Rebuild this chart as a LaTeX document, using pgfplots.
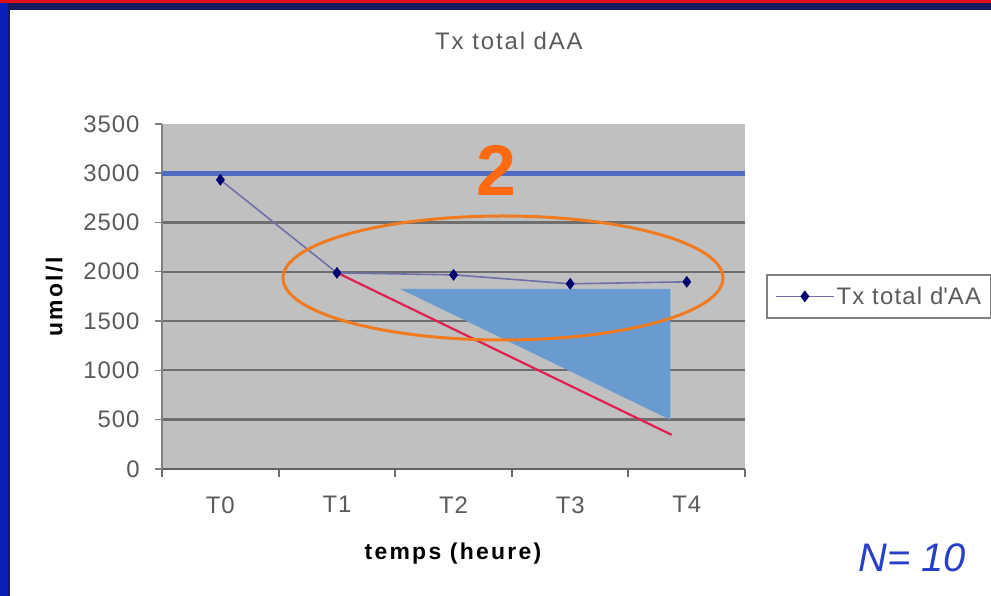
\documentclass[border=0pt]{standalone}
\usepackage{pgfplots}
\pgfplotsset{compat=1.18}
\usepackage{fontspec}
\setmainfont{Liberation Sans}
\definecolor{plotgray}{HTML}{C0C0C0}
\definecolor{gridc}{HTML}{6E6E6E}
\definecolor{blueline}{HTML}{4F6BC0}
\definecolor{triblue}{HTML}{6A9BD0}
\definecolor{redline}{HTML}{E02050}
\definecolor{ellorange}{HTML}{F07A20}
\definecolor{twoorange}{HTML}{FF6A10}
\definecolor{serline}{HTML}{7070A8}
\definecolor{sermark}{HTML}{000070}
\definecolor{nblue}{HTML}{2A3FC8}
\definecolor{framered}{HTML}{E0101A}
\definecolor{framenavy}{HTML}{141A5C}
\definecolor{frameblue}{HTML}{0A20B8}
\definecolor{ticktext}{HTML}{5A5A5A}
\begin{document}
\begin{tikzpicture}[x=1bp,y=1bp]
\useasboundingbox (0,0) rectangle (991,596);
\clip (0,0) rectangle (991,596);
\fill[white] (0,0) rectangle (991,596);
\fill[framenavy] (0,586) rectangle (991,593);
\fill[framered] (0,593) rectangle (991,596);
\fill[frameblue] (0,0) rectangle (8,593);
\fill[framenavy] (8,0) rectangle (10,593);
\begin{axis}[
  at={(139,129)}, anchor=south west,
  scale only axis, width=583bp, height=345bp,
  xmin=-0.5, xmax=4.5, ymin=0, ymax=3500,
  axis background/.style={fill=plotgray},
  axis x line*=bottom, axis y line*=left,
  axis line style={-, line width=2bp},
  x axis line style={color=gridc!90!black},
  y axis line style={color=gray},
  xtick={0,1,2,3,4}, xticklabels={T0,T1,T2,T3,T4},
  major x tick style={draw=none},
  minor xtick={-0.5,0.5,1.5,2.5,3.5,4.5},
  minor x tick style={draw=gridc, line width=2bp},
  minor tick length=8bp,
  ytick={0,500,...,3000},
  extra y ticks={3500}, extra y tick style={ymajorgrids=false},
  major tick length=7bp,
  tick align=outside,
  y tick style={draw=gray, line width=1.5bp},
  ymajorgrids, major grid style={line width=2.2bp, color=gridc},
  /pgf/number format/1000 sep={},
  /pgf/number format/assume math mode=true,
  ticklabel style={font=\fontsize{24}{28}\selectfont\addfontfeatures{LetterSpace=4}, text=ticktext},
  yticklabel style={anchor=east, xshift=-12bp},
  xticklabel style={yshift=-17bp},
  xlabel={temps (heure)},
  xlabel style={font=\bfseries\fontsize{23}{28}\selectfont\addfontfeatures{LetterSpace=10}, at={(axis description cs:0.499,-0.246)}, anchor=center},
  ylabel={umol/l},
  ylabel style={font=\bfseries\fontsize{23}{28}\selectfont\addfontfeatures{LetterSpace=10}, at={(axis description cs:-0.185,0.4986)}, anchor=center, rotate=0},
  title={Tx total dAA},
  title style={font=\fontsize{24}{28}\selectfont\addfontfeatures{LetterSpace=8}, text=ticktext, at={(axis description cs:0.595,1.223)}, anchor=center},
  legend style={at={(axis description cs:1.036,0.5)}, anchor=west,
    draw=gray, line width=2bp, fill=white,
    font=\fontsize{24}{28}\selectfont\addfontfeatures{LetterSpace=5}, text=ticktext,
    inner ysep=10bp, inner xsep=8bp},
  legend image code/.code={\draw[mark repeat=2,mark phase=2,#1] plot coordinates {(0bp,0bp) (29bp,0bp) (58bp,0bp)};},
  clip=false,
]
\addplot[fill=triblue, draw=none, forget plot] coordinates {(1.541,1826) (3.86,1826) (3.86,497)} -- cycle;
\addplot[redline, line width=2.2bp, forget plot] coordinates {(1,1990) (3.87,345)};
\addplot[blueline, line width=5bp, forget plot] coordinates {(-0.5,3000) (4.5,3000)};
\addplot[serline, line width=1.6bp, mark=diamond*, mark size=5.5bp, mark options={fill=sermark, draw=sermark, line width=0.5bp}]
  coordinates {(0,2932) (1,1988) (2,1968) (3,1877) (4,1897)};
\addlegendentry{Tx total d\textquotesingle AA\hspace{14bp}}
\end{axis}
\draw[ellorange, line width=3bp] (503,318) ellipse [x radius=220, y radius=62];
\node[text=twoorange, font=\bfseries\fontsize{72}{80}\selectfont] at (496,426) {2};
\node[text=nblue, font=\itshape\fontsize{40}{44}\selectfont] at (912,38) {N= 10};
\end{tikzpicture}
\end{document}
